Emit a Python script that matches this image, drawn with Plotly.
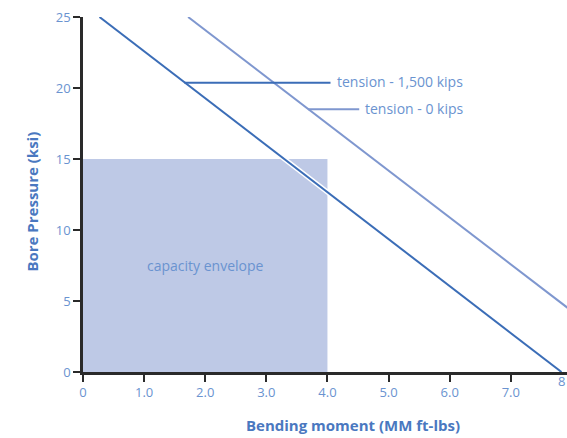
import plotly.graph_objects as go

# Data
x_ticks = [0, 1, 2, 3, 4, 5, 6, 7]
x_tick_labels = ["0", "1.0", "2.0", "3.0", "4.0", "5.0", "6.0", "7.0"]
y_ticks = [0, 5, 10, 15, 20, 25]
y_tick_labels = ["0", "5", "10", "15", "20", "25"]

tension_1500_x = [0.27, 7.83]
tension_1500_y = [25, 0]
tension_0_x = [1.72, 9.30]
tension_0_y = [25, 0]

envelope_x = [0, 4.0, 4.0, 0, 0]
envelope_y = [0, 0, 15, 15, 0]

leader_1500_x = [1.66, 4.05]
leader_1500_y = [20.37, 20.37]
leader_0_x = [3.68, 4.52]
leader_0_y = [18.5, 18.5]

DARK = "#3b6db7"
LIGHT = "#7f97cf"
ENV = "#bec9e6"
TXT = "#6a93d0"
TITLE = "#4a78c0"
FONT = "Open Sans"

fig = go.Figure()
fig.add_trace(go.Scatter(x=envelope_x, y=envelope_y, fill="toself", fillcolor=ENV,
                         line=dict(width=0), mode="lines", hoverinfo="skip"))
fig.add_trace(go.Scatter(x=tension_0_x, y=tension_0_y, mode="lines",
                         line=dict(color=LIGHT, width=2)))
fig.add_trace(go.Scatter(x=tension_1500_x, y=tension_1500_y, mode="lines",
                         line=dict(color="white", width=5)))
fig.add_trace(go.Scatter(x=tension_1500_x, y=tension_1500_y, mode="lines",
                         line=dict(color=DARK, width=2)))
fig.add_trace(go.Scatter(x=leader_1500_x, y=leader_1500_y, mode="lines",
                         line=dict(color=DARK, width=2)))
fig.add_trace(go.Scatter(x=leader_0_x, y=leader_0_y, mode="lines",
                         line=dict(color=LIGHT, width=2)))

fig.add_annotation(x=leader_1500_x[1], y=leader_1500_y[1], text="tension - 1,500 kips",
                   showarrow=False, xanchor="left", xshift=4, yshift=1,
                   font=dict(family=FONT, size=14, color=TXT))
fig.add_annotation(x=leader_0_x[1], y=leader_0_y[1], text="tension - 0 kips",
                   showarrow=False, xanchor="left", xshift=4, yshift=1,
                   font=dict(family=FONT, size=14, color=TXT))
fig.add_annotation(x=2.0, y=7.5, text="capacity envelope", showarrow=False,
                   font=dict(family=FONT, size=14, color=TXT))

# axis titles
fig.add_annotation(xref="paper", yref="paper", x=(353 - 83) / (567 - 83), y=0,
                   yshift=-53, text="<b>Bending moment (MM ft-lbs)</b>", showarrow=False,
                   xanchor="center", yanchor="middle",
                   font=dict(family=FONT, size=15, color=TITLE))
fig.add_annotation(xref="paper", yref="paper", x=-(83 - 32) / (567 - 83), y=0.48,
                   text="<b>Bore Pressure (ksi)</b>", showarrow=False, textangle=-90,
                   xanchor="center", yanchor="middle",
                   font=dict(family=FONT, size=15, color=TITLE))
fig.add_annotation(xref="paper", yref="paper", x=1.0, y=0, yshift=-20,
                   text="8", showarrow=False, xanchor="right",
                   font=dict(family=FONT, size=13, color=TXT))

fig.update_layout(
    width=567, height=438,
    margin=dict(l=83, r=0, t=17, b=66),
    paper_bgcolor="white", plot_bgcolor="white",
    showlegend=False,
    font=dict(family=FONT, color=TXT),
)
fig.update_xaxes(range=[0, 7.92], tickvals=x_ticks, ticktext=x_tick_labels,
                 showgrid=False, zeroline=False, showline=True, linecolor="#2a2a2a",
                 linewidth=2.5, ticks="outside", ticklen=7, tickwidth=2, tickcolor="#2a2a2a",
                 tickfont=dict(family=FONT, size=13, color=TXT))
fig.update_yaxes(range=[0, 25], tickvals=y_ticks, ticktext=y_tick_labels,
                 showgrid=False, zeroline=False, showline=True, linecolor="#2a2a2a",
                 linewidth=2.5, ticks="outside", ticklen=7, tickwidth=2, tickcolor="#2a2a2a",
                 tickfont=dict(family=FONT, size=13, color=TXT))

fig.write_html("out.html", config={"displayModeBar": False},
               post_script="document.body.style.margin='0';document.body.style.overflow='hidden';")
